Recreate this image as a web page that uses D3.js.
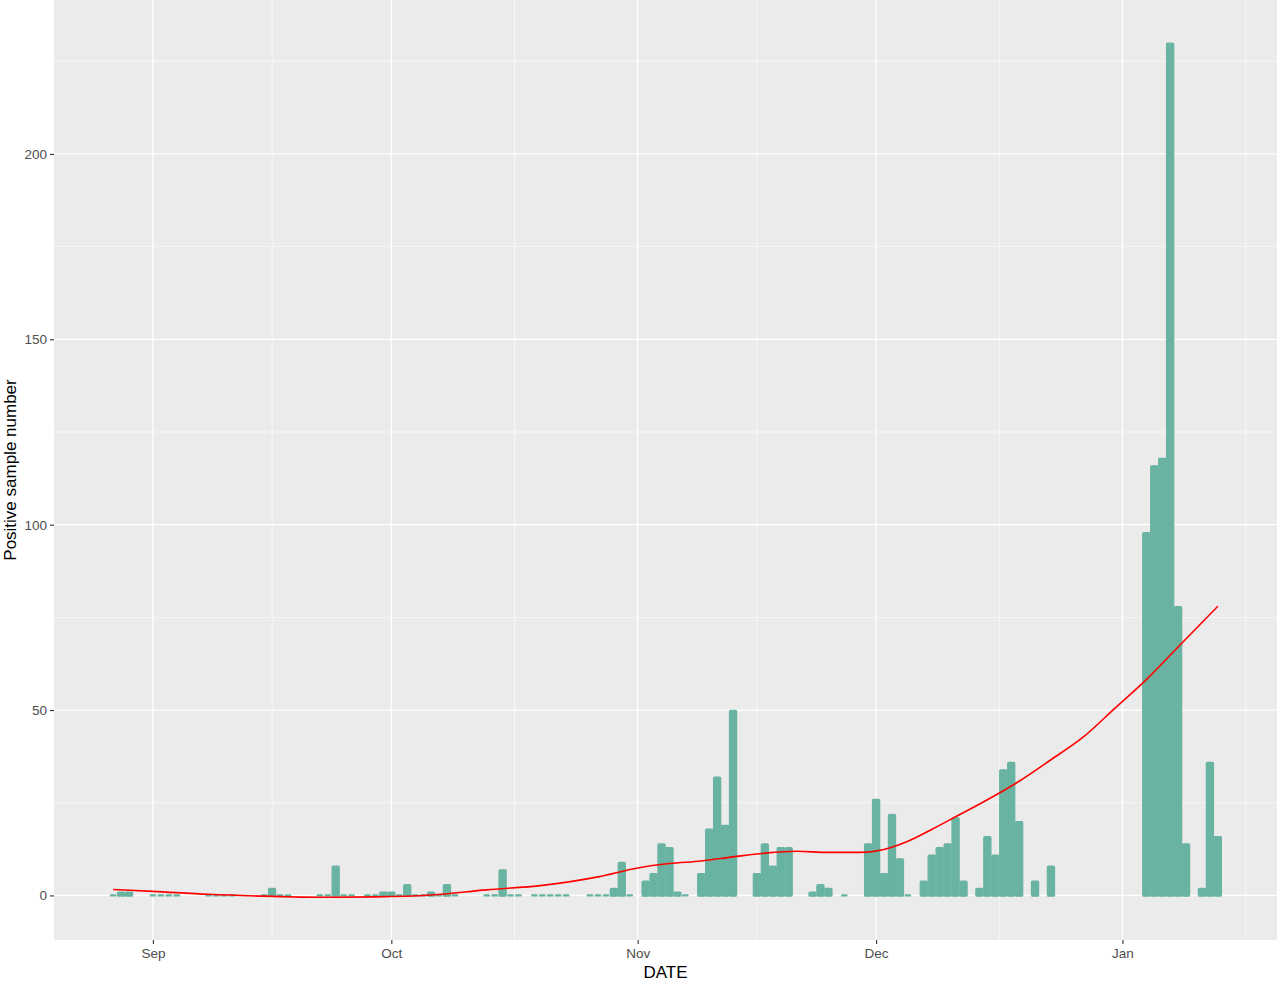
<!DOCTYPE html>
<html><head><meta charset="utf-8">
<script src="https://cdn.jsdelivr.net/npm/d3@7"></script>
<style>body{margin:0;background:#fff}svg{display:block}</style>
</head><body><svg id="c" width="1280" height="982"></svg>
<script>
// ---- data ----
const barDates = [
 "2020-08-27","2020-08-28","2020-08-29",
 "2020-09-01","2020-09-02","2020-09-03","2020-09-04",
 "2020-09-08","2020-09-09","2020-09-10","2020-09-11",
 "2020-09-15","2020-09-16","2020-09-17","2020-09-18",
 "2020-09-22","2020-09-23","2020-09-24","2020-09-25","2020-09-26",
 "2020-09-28","2020-09-29","2020-09-30",
 "2020-10-01","2020-10-02","2020-10-03","2020-10-04","2020-10-05","2020-10-06","2020-10-07","2020-10-08","2020-10-09",
 "2020-10-13","2020-10-14","2020-10-15","2020-10-16","2020-10-17",
 "2020-10-19","2020-10-20","2020-10-21","2020-10-22","2020-10-23",
 "2020-10-26","2020-10-27","2020-10-28","2020-10-29","2020-10-30","2020-10-31",
 "2020-11-02","2020-11-03","2020-11-04","2020-11-05","2020-11-06","2020-11-07",
 "2020-11-09","2020-11-10","2020-11-11","2020-11-12","2020-11-13",
 "2020-11-16","2020-11-17","2020-11-18","2020-11-19","2020-11-20",
 "2020-11-23","2020-11-24","2020-11-25","2020-11-27",
 "2020-11-30","2020-12-01","2020-12-02","2020-12-03","2020-12-04","2020-12-05",
 "2020-12-07","2020-12-08","2020-12-09","2020-12-10","2020-12-11","2020-12-12",
 "2020-12-14","2020-12-15","2020-12-16","2020-12-17","2020-12-18","2020-12-19",
 "2020-12-21","2020-12-23",
 "2021-01-04","2021-01-05","2021-01-06","2021-01-07","2021-01-08","2021-01-09",
 "2021-01-11","2021-01-12","2021-01-13"
];
const barValues = [
 0,1,1,
 0,0,0,0,
 0,0,0,0,
 0,2,0,0,
 0,0,8,0,0,
 0,0,1,
 1,0,3,0,0,1,0,3,0,
 0,0,7,0,0,
 0,0,0,0,0,
 0,0,0,2,9,0,
 4,6,14,13,1,0,
 6,18,32,19,50,
 6,14,8,13,13,
 1,3,2,0,
 14,26,6,22,10,0,
 4,11,13,14,21,4,
 2,16,11,34,36,20,
 4,8,
 98,116,118,230,78,14,
 2,36,16
];
const smoothDates = [
 "2020-08-27","2020-09-01","2020-09-08","2020-09-15","2020-09-22","2020-09-29",
 "2020-10-06","2020-10-13","2020-10-20","2020-10-27","2020-11-01","2020-11-05",
 "2020-11-09","2020-11-13","2020-11-17","2020-11-21","2020-11-25","2020-11-29",
 "2020-12-02","2020-12-05","2020-12-08","2020-12-11","2020-12-15","2020-12-19",
 "2020-12-23","2020-12-27","2020-12-31","2021-01-04","2021-01-08","2021-01-13"
];
const smoothValues = [
 1.6,1.1,0.3,-0.2,-0.5,-0.4,
 0.1,1.5,2.7,5.0,7.4,8.6,
 9.3,10.4,11.4,11.9,11.6,11.6,
 12.4,14.6,17.8,21.2,25.8,30.8,
 36.6,42.6,50.4,58.2,67.0,78.0
];
const yTickValues = [0,50,100,150,200];
const yMinorValues = [25,75,125,175,225];
const xTickDates = ["2020-09-01","2020-10-01","2020-11-01","2020-12-01","2021-01-01"];
const xTickLabels = ["Sep","Oct","Nov","Dec","Jan"];
const xMinorDates = ["2020-09-16T00:00","2020-10-16T12:00","2020-11-16T00:00","2020-12-16T12:00","2021-01-16T12:00"];

// ---- chart ----
const parse = d3.utcParse("%Y-%m-%d");
const parseT = d3.utcParse("%Y-%m-%dT%H:%M");
const DAY = 864e5;
const bars = barDates.map((d,i)=>({date:parse(d), value:barValues[i]}));
const smooth = smoothDates.map((d,i)=>({date:parse(d), value:smoothValues[i]}));

const panel = {left:54, right:1277, top:0, bottom:940};
const svg = d3.select("#c");
const font = "'Liberation Sans', Arial, Helvetica, sans-serif";

const xMin = +bars[0].date - 0.45*DAY, xMax = +bars[bars.length-1].date + 0.45*DAY;
const xPad = (xMax - xMin)*0.05;
const x = d3.scaleUtc().domain([new Date(xMin - xPad), new Date(xMax + xPad)]).range([panel.left, panel.right]);
const yLo = Math.min(0, d3.min(smoothValues)), yHi = d3.max(barValues);
const yPad = (yHi - yLo)*0.05;
const y = d3.scaleLinear().domain([yLo - yPad, yHi + yPad]).range([panel.bottom, panel.top]);

// background
svg.append("rect").attr("x",panel.left).attr("y",panel.top)
  .attr("width",panel.right-panel.left).attr("height",panel.bottom-panel.top).attr("fill","#ebebeb");

const grid = svg.append("g");
grid.selectAll(".ymin").data(yMinorValues).join("line")
  .attr("x1",panel.left).attr("x2",panel.right)
  .attr("y1",d=>y(d)).attr("y2",d=>y(d)).attr("stroke","#fff").attr("stroke-width",0.6);
grid.selectAll(".xmin").data(xMinorDates.map(d=>parseT(d))).join("line")
  .attr("y1",panel.top).attr("y2",panel.bottom)
  .attr("x1",d=>x(d)).attr("x2",d=>x(d)).attr("stroke","#fff").attr("stroke-width",0.6);
grid.selectAll(".ymaj").data(yTickValues).join("line")
  .attr("x1",panel.left).attr("x2",panel.right)
  .attr("y1",d=>y(d)).attr("y2",d=>y(d)).attr("stroke","#fff").attr("stroke-width",1.3);
grid.selectAll(".xmaj").data(xTickDates.map(d=>parse(d))).join("line")
  .attr("y1",panel.top).attr("y2",panel.bottom)
  .attr("x1",d=>x(d)).attr("x2",d=>x(d)).attr("stroke","#fff").attr("stroke-width",1.3);

// bars
const barColor = "#69b3a2";
svg.append("g").selectAll("rect").data(bars).join("rect")
  .attr("x",d=>{const l=x(new Date(+d.date-0.5*DAY)); return d.value===0? l+1.2 : l+0.4;})
  .attr("width",d=>{const w=x(new Date(+d.date+0.5*DAY))-x(new Date(+d.date-0.5*DAY)); return d.value===0? w-2.4 : w-0.8;})
  .attr("y",d=> d.value===0 ? y(0)-0.6 : y(d.value)+0.4)
  .attr("height",d=> d.value===0 ? 1.2 : y(0)-y(d.value)+0.4)
  .attr("rx",1).attr("ry",1)
  .attr("fill",barColor)
  .attr("stroke",barColor).attr("stroke-width",1.2).attr("stroke-linejoin","round");

// smooth line
const line = d3.line().x(d=>x(d.date)).y(d=>y(d.value)).curve(d3.curveMonotoneX);
svg.append("path").datum(smooth).attr("d",line)
  .attr("fill","none").attr("stroke","#ff0000").attr("stroke-width",1.6);

// axes
const xAxis = d3.axisBottom(x).tickValues(xTickDates.map(d=>parse(d)))
  .tickFormat((d,i)=>xTickLabels[i]).tickSize(4).tickPadding(4);
const gx = svg.append("g").attr("transform",`translate(0,${panel.bottom})`).call(xAxis);
gx.select(".domain").remove();
gx.selectAll(".tick line").attr("stroke","#333").attr("stroke-width",1.1);
gx.selectAll("text").attr("fill","#4d4d4d").style("font-family",font).style("font-size","13.5px");

const yAxis = d3.axisLeft(y).tickValues(yTickValues).tickSize(4).tickPadding(3);
const gy = svg.append("g").attr("transform",`translate(${panel.left},0)`).call(yAxis);
gy.select(".domain").remove();
gy.selectAll(".tick line").attr("stroke","#333").attr("stroke-width",1.1);
gy.selectAll("text").attr("fill","#4d4d4d").style("font-family",font).style("font-size","13.5px");

// titles
svg.append("text").attr("x",(panel.left+panel.right)/2).attr("y",978)
  .attr("text-anchor","middle").style("font-family",font).style("font-size","17px").attr("fill","#000")
  .text("DATE");
svg.append("text").attr("transform",`translate(16,${(panel.top+panel.bottom)/2}) rotate(-90)`)
  .attr("text-anchor","middle").style("font-family",font).style("font-size","17px").attr("fill","#000")
  .text("Positive sample number");
</script></body></html>
